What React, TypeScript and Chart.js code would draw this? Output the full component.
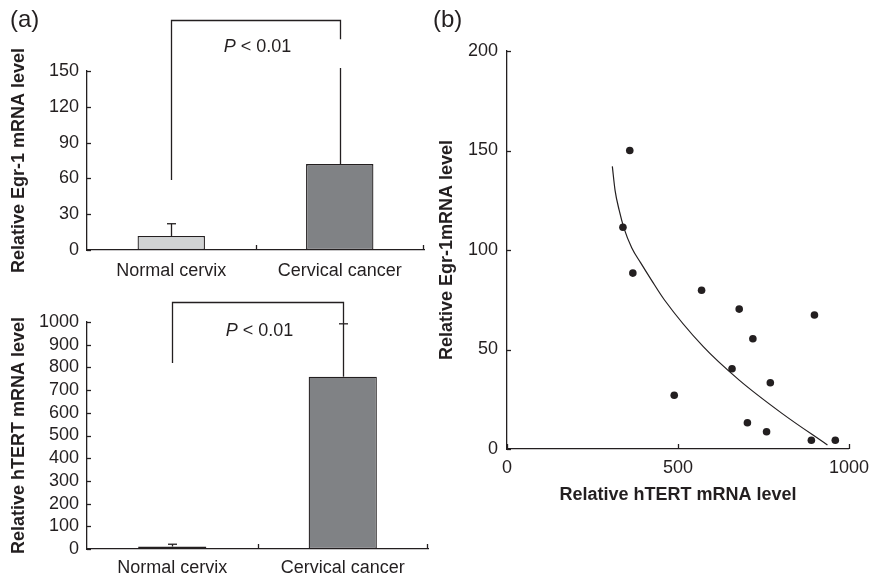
import React, { useEffect, useRef } from "react";
import { Chart, registerables } from "chart.js";

Chart.register(...registerables);

// ---------- data ----------
const barCategories = ["Normal cervix", "Cervical cancer"];

const egrMeans = [11.7, 72];
const egrErrors = [10.3, 80.5];
const egrTicks = [0, 30, 60, 90, 120, 150];
// bracket: [left leg bottom, bracket top, right leg bottom]
const egrBracket = [58.7, 193, 176.6];
const egrPLabelY = 170;

const htertMeans = [11, 759];
const htertErrors = [10, 233];
const htertTicks = [0, 100, 200, 300, 400, 500, 600, 700, 800, 900, 1000];
const htertBracket = [819, 1088, 992];
const htertPLabelY = 962;

const pLabelItalic = "P";
const pLabelRest = " < 0.01";

const scatterHtert = [359, 339, 368, 569, 679, 899, 719, 658, 770, 489, 703, 759, 890, 960];
const scatterEgr = [150, 111.4, 88.4, 79.8, 70.3, 67.3, 55.4, 40.3, 33.3, 27, 13.2, 8.7, 4.4, 4.4];

const fitHtert = [308, 316, 328, 342, 365, 391, 422, 460, 574, 679, 804, 937];
const fitEgr = [142, 130, 120, 111, 101, 93.5, 85, 75, 51.4, 34.6, 17.9, 2];

const scatterXTicks = [0, 500, 1000];
const scatterYTicks = [0, 50, 100, 150, 200];

// ---------- styles ----------
const INK = "#231f20";
const FAMILY = "'Liberation Sans', Arial, Helvetica, sans-serif";
const LW = 1.3;

const plainNumber = (v: any) => String(v);

function line(ctx: CanvasRenderingContext2D, x1: number, y1: number, x2: number, y2: number) {
  ctx.beginPath();
  ctx.moveTo(x1, y1);
  ctx.lineTo(x2, y2);
  ctx.stroke();
}

function drawInwardYTicks(chart: any) {
  const ctx = chart.ctx;
  const y = chart.scales.y;
  const left = chart.chartArea.left;
  y.ticks.forEach((t: any) => {
    const p = Math.round(y.getPixelForValue(t.value)) + 0.5;
    line(ctx, left, p, left + 4, p);
  });
}

function barDecorPlugin(means: number[], errors: number[], bracket: number[], pY: number, caps: boolean[]) {
  return {
    id: "barDecor",
    afterDraw(chart: any) {
      const ctx = chart.ctx as CanvasRenderingContext2D;
      const x = chart.scales.x;
      const y = chart.scales.y;
      const area = chart.chartArea;
      const meta = chart.getDatasetMeta(0);
      ctx.save();
      ctx.strokeStyle = INK;
      ctx.lineWidth = LW;
      // error bars
      meta.data.forEach((bar: any, i: number) => {
        const cx = Math.round(bar.x) + 0.5;
        const base = y.getPixelForValue(means[i]);
        const top = y.getPixelForValue(means[i] + errors[i]);
        line(ctx, cx, base, cx, top);
        if (caps[i]) line(ctx, cx - 4.5, top, cx + 4.5, top);
      });
      // bracket
      const lx = Math.round(x.getPixelForValue(0)) + 0.5;
      const rx = Math.round(x.getPixelForValue(1)) + 0.5;
      const by = Math.round(y.getPixelForValue(bracket[1])) + 0.5;
      ctx.beginPath();
      ctx.moveTo(lx, y.getPixelForValue(bracket[0]));
      ctx.lineTo(lx, by);
      ctx.lineTo(rx, by);
      ctx.lineTo(rx, y.getPixelForValue(bracket[2]));
      ctx.stroke();
      // inward ticks
      drawInwardYTicks(chart);
      const bottom = area.bottom;
      const mid = Math.round((x.getPixelForValue(0) + x.getPixelForValue(1)) / 2) + 0.5;
      line(ctx, mid, bottom, mid, bottom - 5);
      line(ctx, area.right - 0.5, bottom, area.right - 0.5, bottom - 5);
      // P label
      ctx.fillStyle = INK;
      ctx.textBaseline = "middle";
      ctx.textAlign = "left";
      ctx.font = `italic 18px ${FAMILY}`;
      const w1 = ctx.measureText(pLabelItalic).width;
      ctx.font = `18px ${FAMILY}`;
      const w2 = ctx.measureText(pLabelRest).width;
      const cxText = (x.getPixelForValue(0) + x.getPixelForValue(1)) / 2 + 2;
      const ty = y.getPixelForValue(pY);
      const start = cxText - (w1 + w2) / 2;
      ctx.font = `italic 18px ${FAMILY}`;
      ctx.fillText(pLabelItalic, start, ty);
      ctx.font = `18px ${FAMILY}`;
      ctx.fillText(pLabelRest, start + w1, ty);
      ctx.restore();
    },
  };
}

function barConfig(
  means: number[],
  errors: number[],
  ticks: number[],
  bracket: number[],
  pY: number,
  caps: boolean[],
  title: string,
  padding: { top: number; right: number },
  xHeight: number,
  xPad: number
): any {
  return {
    type: "bar",
    data: {
      labels: barCategories,
      datasets: [
        {
          data: means,
          backgroundColor: ["#d1d3d4", "#808285"],
          borderColor: INK,
          borderWidth: LW,
          borderSkipped: false,
          barPercentage: 0.4,
          categoryPercentage: 1,
        },
      ],
    },
    options: {
      responsive: false,
      animation: false,
      layout: { padding: { left: 0, top: padding.top, right: padding.right, bottom: 0 } },
      plugins: { legend: { display: false }, tooltip: { enabled: false } },
      scales: {
        x: {
          type: "category",
          offset: true,
          grid: { display: false, drawTicks: false },
          border: { display: true, color: INK, width: LW },
          ticks: { color: INK, font: { family: FAMILY, size: 18 }, padding: xPad, maxRotation: 0, autoSkip: false },
          afterFit: (s: any) => {
            s.height = xHeight;
          },
        },
        y: {
          min: ticks[0],
          max: ticks[ticks.length - 1],
          grid: { display: false, drawTicks: false },
          border: { display: true, color: INK, width: LW },
          ticks: { color: INK, font: { family: FAMILY, size: 18 }, padding: 8, autoSkip: false, callback: plainNumber },
          afterBuildTicks: (s: any) => {
            s.ticks = ticks.map((v) => ({ value: v }));
          },
          title: {
            display: true,
            text: title,
            color: INK,
            font: { family: FAMILY, size: 18, weight: "bold" },
            padding: { top: 8, bottom: 0 },
          },
          afterFit: (s: any) => {
            s.width = 87;
          },
        },
      },
    },
    plugins: [barDecorPlugin(means, errors, bracket, pY, caps)],
  };
}

const scatterTicksPlugin = {
  id: "scatterTicks",
  afterDraw(chart: any) {
    const ctx = chart.ctx as CanvasRenderingContext2D;
    const x = chart.scales.x;
    const area = chart.chartArea;
    ctx.save();
    ctx.strokeStyle = INK;
    ctx.lineWidth = LW;
    drawInwardYTicks(chart);
    x.ticks.forEach((t: any) => {
      const p = Math.round(x.getPixelForValue(t.value)) + 0.5;
      line(ctx, p, area.bottom, p, area.bottom - 5);
    });
    ctx.restore();
  },
};

function scatterConfig(): any {
  return {
    type: "scatter",
    data: {
      datasets: [
        {
          data: scatterHtert.map((v, i) => ({ x: v, y: scatterEgr[i] })),
          backgroundColor: INK,
          borderWidth: 0,
          pointRadius: 3.8,
          showLine: false,
        },
        {
          data: fitHtert.map((v, i) => ({ x: v, y: fitEgr[i] })),
          showLine: true,
          borderColor: INK,
          borderWidth: 1.2,
          pointRadius: 0,
          cubicInterpolationMode: "monotone",
          fill: false,
        },
      ],
    },
    options: {
      responsive: false,
      animation: false,
      layout: { padding: { left: 0, top: 51, right: 22, bottom: 65 } },
      plugins: { legend: { display: false }, tooltip: { enabled: false } },
      scales: {
        x: {
          type: "linear",
          min: scatterXTicks[0],
          max: scatterXTicks[scatterXTicks.length - 1],
          grid: { display: false, drawTicks: false },
          border: { display: true, color: INK, width: LW },
          ticks: { color: INK, font: { family: FAMILY, size: 18 }, padding: 8, autoSkip: false, callback: plainNumber },
          afterBuildTicks: (s: any) => {
            s.ticks = scatterXTicks.map((v) => ({ value: v }));
          },
          title: {
            display: true,
            text: "Relative hTERT mRNA level",
            color: INK,
            font: { family: FAMILY, size: 18, weight: "bold" },
            padding: { top: 0, bottom: 4 },
          },
          afterFit: (s: any) => {
            s.height = 61;
          },
        },
        y: {
          type: "linear",
          min: scatterYTicks[0],
          max: scatterYTicks[scatterYTicks.length - 1],
          grid: { display: false, drawTicks: false },
          border: { display: true, color: INK, width: LW },
          ticks: { color: INK, font: { family: FAMILY, size: 18 }, padding: 9, autoSkip: false, callback: plainNumber },
          afterBuildTicks: (s: any) => {
            s.ticks = scatterYTicks.map((v) => ({ value: v }));
          },
          title: {
            display: true,
            text: "Relative Egr-1mRNA level",
            color: INK,
            font: { family: FAMILY, size: 18, weight: "bold" },
            padding: { top: 6, bottom: 0 },
          },
          afterFit: (s: any) => {
            s.width = 77;
          },
        },
      },
    },
    plugins: [scatterTicksPlugin],
  };
}

function ChartCanvas(props: { config: () => any; left: number; top: number; width: number; height: number }) {
  const ref = useRef<HTMLCanvasElement | null>(null);
  useEffect(() => {
    if (!ref.current) return;
    const chart = new Chart(ref.current, props.config());
    return () => chart.destroy();
  }, []);
  return (
    <canvas
      ref={ref}
      width={props.width}
      height={props.height}
      style={{ position: "absolute", left: props.left, top: props.top, width: props.width, height: props.height }}
    />
  );
}

export default function App() {
  const panelLabel: React.CSSProperties = {
    position: "absolute",
    fontFamily: FAMILY,
    fontSize: 24,
    lineHeight: "24px",
    color: INK,
  };
  return (
    <div style={{ position: "absolute", left: 0, top: 0, width: 877, height: 575, background: "#fff", overflow: "hidden" }}>
      <ChartCanvas
        left={0}
        top={0}
        width={430}
        height={285}
        config={() =>
          barConfig(egrMeans, egrErrors, egrTicks, egrBracket, egrPLabelY, [true, false], "Relative Egr-1 mRNA level", { top: 71, right: 6 }, 35, 10)
        }
      />
      <ChartCanvas
        left={0}
        top={285}
        width={430}
        height={290}
        config={() =>
          barConfig(htertMeans, htertErrors, htertTicks, htertBracket, htertPLabelY, [true, true], "Relative hTERT mRNA level", { top: 37, right: 2 }, 26, 8)
        }
      />
      <ChartCanvas left={430} top={0} width={447} height={575} config={scatterConfig} />
      <div style={{ ...panelLabel, left: 10, top: 7 }}>(a)</div>
      <div style={{ ...panelLabel, left: 433, top: 7 }}>(b)</div>
    </div>
  );
}
